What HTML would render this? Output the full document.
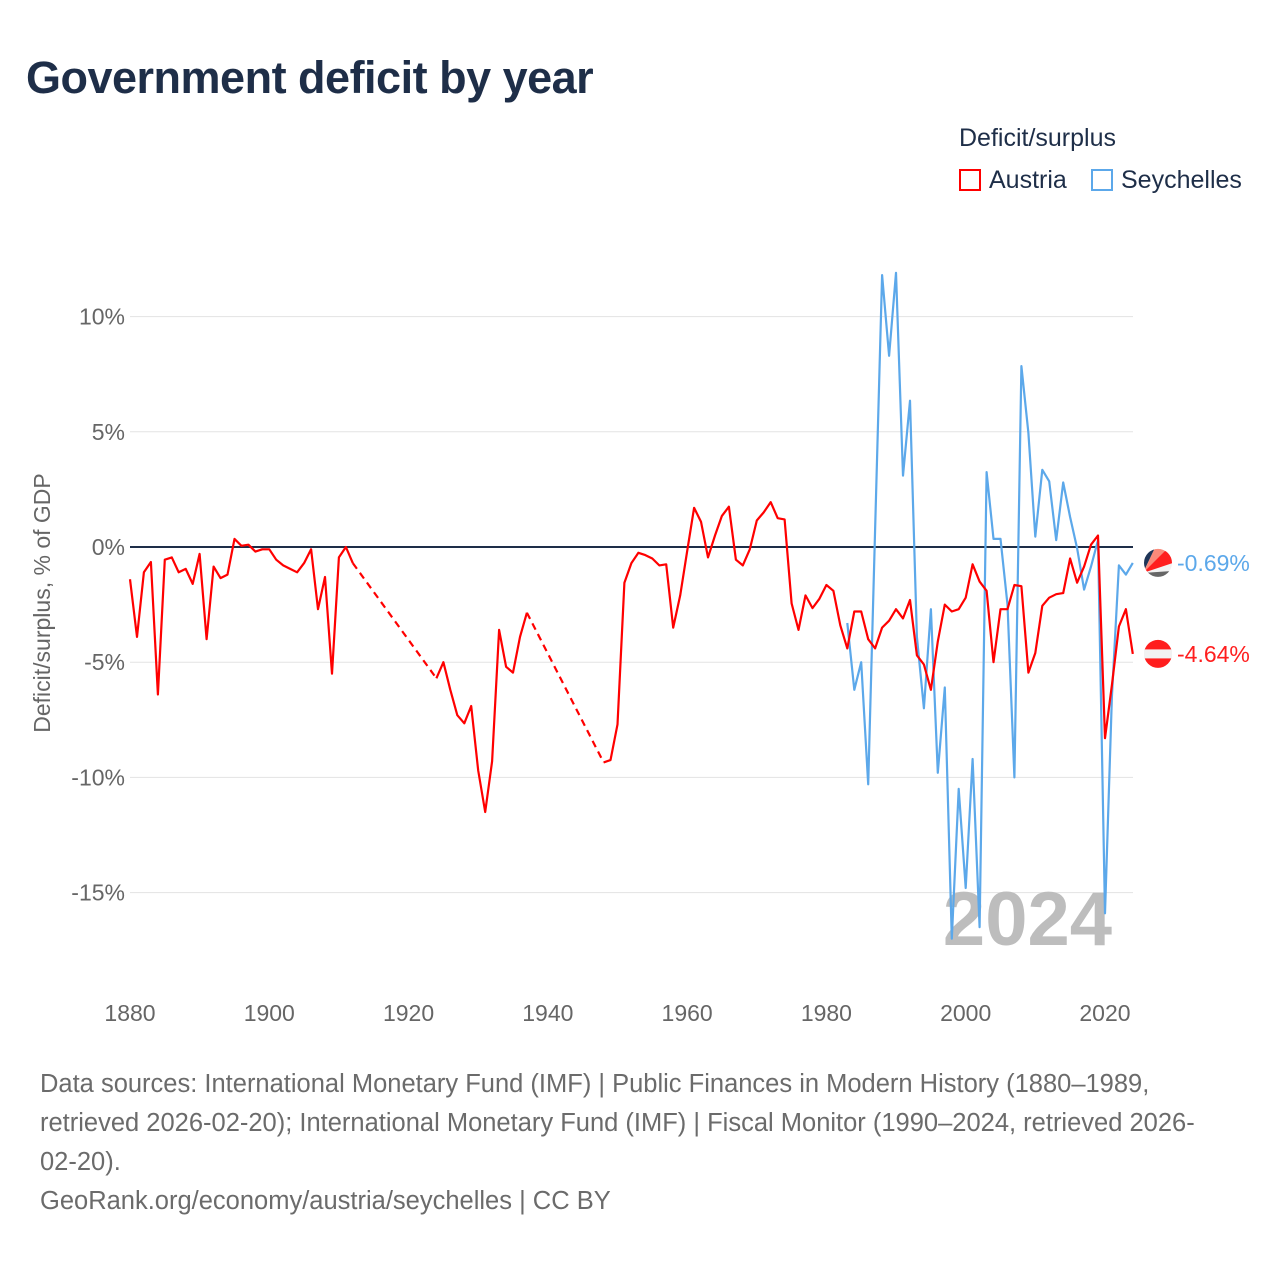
<!DOCTYPE html>
<html><head><meta charset="utf-8">
<style>
body{margin:0;background:#fff;font-family:"Liberation Sans",sans-serif;}
#wrap{position:relative;width:1280px;height:1280px;overflow:hidden;}
.t{position:absolute;white-space:nowrap;}
</style></head>
<body>
<div id="wrap">
<div class="t" style="left:26px;top:52px;font-size:45px;font-weight:bold;color:#1e2e48;letter-spacing:-0.5px">Government deficit by year</div>
<div class="t" style="left:959px;top:124px;font-size:25px;color:#1e2e48">Deficit/surplus</div>
<div class="t" style="left:959px;top:166px;font-size:25px;color:#1e2e48"><span style="display:inline-block;width:22px;height:22px;border:2px solid #ff0000;box-sizing:border-box;vertical-align:-3px;margin-right:8px"></span>Austria</div>
<div class="t" style="left:1091px;top:166px;font-size:25px;color:#1e2e48"><span style="display:inline-block;width:22px;height:22px;border:2px solid #5ca8ea;box-sizing:border-box;vertical-align:-3px;margin-right:8px"></span>Seychelles</div>
<svg id="chart" width="1280" height="1280" style="position:absolute;left:0;top:0"></svg>
<div class="t" style="left:40px;top:1065px;font-size:25.5px;line-height:39px;color:#6b6b6b">Data sources: International Monetary Fund (IMF) | Public Finances in Modern History (1880–1989,<br>retrieved 2026-02-20); International Monetary Fund (IMF) | Fiscal Monitor (1990–2024, retrieved 2026-<br>02-20).<br>GeoRank.org/economy/austria/seychelles | CC BY</div>
</div>
<script>
const austriaYears=[1880,1881,1882,1883,1884,1885,1886,1887,1888,1889,1890,1891,1892,1893,1894,1895,1896,1897,1898,1899,1900,1901,1902,1903,1904,1905,1906,1907,1908,1909,1910,1911,1912,1924,1925,1926,1927,1928,1929,1930,1931,1932,1933,1934,1935,1936,1937,1948,1949,1950,1951,1952,1953,1954,1955,1956,1957,1958,1959,1960,1961,1962,1963,1964,1965,1966,1967,1968,1969,1970,1971,1972,1973,1974,1975,1976,1977,1978,1979,1980,1981,1982,1983,1984,1985,1986,1987,1988,1989,1990,1991,1992,1993,1994,1995,1996,1997,1998,1999,2000,2001,2002,2003,2004,2005,2006,2007,2008,2009,2010,2011,2012,2013,2014,2015,2016,2017,2018,2019,2020,2021,2022,2023,2024];
const austriaValues=[-1.4,-3.9,-1.1,-0.65,-6.4,-0.55,-0.45,-1.1,-0.95,-1.6,-0.3,-4.0,-0.85,-1.35,-1.2,0.35,0.05,0.1,-0.2,-0.1,-0.1,-0.55,-0.8,-0.95,-1.1,-0.7,-0.1,-2.7,-1.3,-5.5,-0.45,0,-0.7,-5.7,-5.0,-6.2,-7.3,-7.65,-6.9,-9.7,-11.5,-9.3,-3.6,-5.2,-5.45,-3.9,-2.85,-9.35,-9.25,-7.7,-1.55,-0.7,-0.25,-0.35,-0.5,-0.8,-0.75,-3.5,-2.1,-0.2,1.7,1.1,-0.45,0.5,1.35,1.75,-0.55,-0.8,-0.1,1.15,1.5,1.95,1.25,1.2,-2.45,-3.6,-2.1,-2.65,-2.25,-1.65,-1.9,-3.4,-4.4,-2.8,-2.8,-4.0,-4.4,-3.5,-3.2,-2.7,-3.1,-2.3,-4.7,-5.1,-6.2,-4.1,-2.5,-2.8,-2.7,-2.2,-0.75,-1.5,-1.9,-5.0,-2.7,-2.7,-1.65,-1.7,-5.45,-4.6,-2.55,-2.2,-2.05,-2.0,-0.5,-1.55,-0.85,0.1,0.5,-8.3,-6.0,-3.45,-2.7,-4.64];
const seyYears=[1983,1984,1985,1986,1987,1988,1989,1990,1991,1992,1993,1994,1995,1996,1997,1998,1999,2000,2001,2002,2003,2004,2005,2006,2007,2008,2009,2010,2011,2012,2013,2014,2015,2016,2017,2018,2019,2020,2021,2022,2023,2024];
const seyValues=[-3.3,-6.2,-5.0,-10.3,0.75,11.8,8.3,11.9,3.1,6.35,-3.9,-7.0,-2.7,-9.8,-6.1,-17.0,-10.5,-14.8,-9.2,-16.5,3.25,0.35,0.35,-2.5,-10.0,7.85,4.95,0.45,3.35,2.85,0.3,2.8,1.3,-0.05,-1.85,-0.85,0.3,-15.9,-6.5,-0.8,-1.2,-0.69];
const yTicks=[10,5,0,-5,-10,-15];
const xTicks=[1880,1900,1920,1940,1960,1980,2000,2020];
const X=y=>130+(y-1880)*6.964;
const Y=v=>547-v*23.04;
const NS='http://www.w3.org/2000/svg';
const svg=document.getElementById('chart');
function mk(tag,attrs,parent){const e=document.createElementNS(NS,tag);for(const k in attrs)e.setAttribute(k,attrs[k]);(parent||svg).appendChild(e);return e;}
const defs=mk('defs',{});
const cp=mk('clipPath',{id:'flagclip'},defs);
mk('circle',{r:14},cp);
yTicks.forEach(t=>{
  const l=mk('line',{x1:130,x2:1133,y1:Y(t),y2:Y(t),stroke:t===0?'#1e2e48':'#e3e3e3','stroke-width':t===0?2:1});
  
  
  const tx=mk('text',{x:125,y:Y(t)+8,'text-anchor':'end','font-size':23,fill:'#666','font-family':'Liberation Sans'});
  tx.textContent=t+'%';
  
  
});
xTicks.forEach(t=>{
  const tx=mk('text',{x:X(t),y:1021,'text-anchor':'middle','font-size':23,fill:'#666','font-family':'Liberation Sans'});
  tx.textContent=t;
  
  
});
const yt=mk('text',{x:0,y:0,transform:'translate(50,603) rotate(-90)','text-anchor':'middle','font-size':23,fill:'#666','font-family':'Liberation Sans'});
yt.textContent='Deficit/surplus, % of GDP';


const yr=mk('text',{x:1112,y:945,'text-anchor':'end','font-size':76,'font-weight':'bold',fill:'#bdbdbd','font-family':'Liberation Sans'});
yr.textContent='2024';


function drawSeries(years,vals,color,name){
  let solid='',dash='';
  for(let i=0;i<years.length;i++){
    const p=X(years[i]).toFixed(1)+','+Y(vals[i]).toFixed(1);
    if(i===0||years[i]-years[i-1]>1){
      if(i>0)dash+='M'+X(years[i-1]).toFixed(1)+','+Y(vals[i-1]).toFixed(1)+'L'+p;
      solid+='M'+p;
    } else solid+='L'+p;
  }
  const s=mk('path',{d:solid,fill:'none',stroke:color,'stroke-width':2.2,'stroke-linejoin':'round'});
  
  
  if(dash){const d=mk('path',{d:dash,fill:'none',stroke:color,'stroke-width':2.2,'stroke-dasharray':'7,5'});
  
  }
}
drawSeries(seyYears,seyValues,'#5ca8ea','seychelles');
drawSeries(austriaYears,austriaValues,'#ff0000','austria');
const sv=seyValues[seyValues.length-1], av=austriaValues[austriaValues.length-1];
const g1=mk('g',{transform:'translate(1158,'+Y(sv)+')'});


const g1c=mk('g',{'clip-path':'url(#flagclip)'},g1);
mk('rect',{x:-15,y:-15,width:30,height:30,fill:'#f2f2f2'},g1c);
mk('path',{d:'M-15,10 L-15,-15 L-3,-15Z',fill:'#1e3558'},g1c);
mk('path',{d:'M-15,10 L-3,-15 L10,-15Z',fill:'#fa8a7a'},g1c);
mk('path',{d:'M-15,10 L10,-15 L15,-15 L15,0Z',fill:'#ff1e1e'},g1c);
mk('path',{d:'M-15,10 L15,8 L15,15 L-15,15Z',fill:'#666'},g1c);
const l1=mk('text',{x:1177,y:Y(sv)+8,'font-size':23,fill:'#5ca8ea','font-family':'Liberation Sans'});
l1.textContent=sv.toFixed(2)+'%';


const g2=mk('g',{transform:'translate(1158,'+Y(av)+')'});


mk('circle',{r:14,fill:'#ff1e1e'},g2);
mk('rect',{x:-14,y:-4.5,width:28,height:9,fill:'#f2f2f2'},g2);
const l2=mk('text',{x:1177,y:Y(av)+8,'font-size':23,fill:'#ff1e1e','font-family':'Liberation Sans'});
l2.textContent=av.toFixed(2)+'%';


</script>
</body></html>
